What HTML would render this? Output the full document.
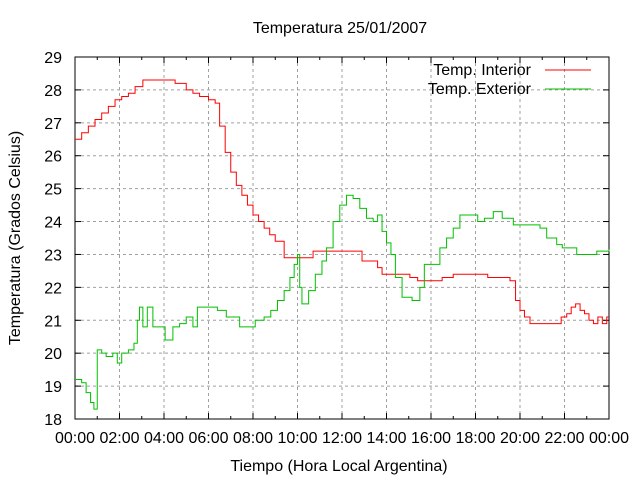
<!DOCTYPE html>
<html><head><meta charset="utf-8"><style>
body{margin:0;background:#fff}
svg{display:block;font-family:"Liberation Sans",sans-serif}
</style></head><body>
<svg id="chart" width="640" height="480">
<rect width="640" height="480" fill="#fff"/>
<text x="340" y="33" text-anchor="middle" font-size="16">Temperatura 25/01/2007</text>
<g id="grid"></g>
<g id="axes"></g>
<g id="series"></g>
<text x="339" y="471" text-anchor="middle" font-size="16">Tiempo (Hora Local Argentina)</text>
<text transform="translate(20,238) rotate(-90)" text-anchor="middle" font-size="16">Temperatura (Grados Celsius)</text>
<g>
<text x="531" y="75" text-anchor="end" font-size="16">Temp. Interior</text>
<line x1="545" y1="70" x2="591" y2="70" stroke="#ff0000"/>
<text x="531" y="94" text-anchor="end" font-size="16">Temp. Exterior</text>
<line x1="545" y1="89" x2="591" y2="89" stroke="#00c000"/>
</g>
</svg>
<script>
const yTicks=[18,19,20,21,22,23,24,25,26,27,28,29];
const xTickHours=[0,2,4,6,8,10,12,14,16,18,20,22,24];
const xTickLabels=["00:00","02:00","04:00","06:00","08:00","10:00","12:00","14:00","16:00","18:00","20:00","22:00","00:00"];
const interiorHours=[0,0.3,0.6,0.9,1.2,1.5,1.8,2.1,2.4,2.7,3.05,4.5,5.0,5.3,5.6,6.0,6.3,6.5,6.75,7,7.25,7.5,7.75,8,8.25,8.5,8.75,9,9.4,10.7,12.9,13.6,13.8,15.05,15.4,15.6,16.5,17.0,18.55,19.55,19.8,20.0,20.2,20.45,21.85,22.1,22.3,22.5,22.7,22.9,23.1,23.3,23.5,23.7,23.9];
const interiorTemps=[26.5,26.7,26.9,27.1,27.3,27.5,27.7,27.8,27.9,28.1,28.3,28.2,28.0,27.9,27.8,27.7,27.6,26.9,26.1,25.5,25.1,24.8,24.5,24.2,24.0,23.8,23.6,23.4,22.9,23.1,22.8,22.6,22.4,22.3,22.2,22.2,22.3,22.4,22.3,22.2,21.6,21.3,21.1,20.9,21.1,21.2,21.4,21.5,21.3,21.2,21.0,20.9,21.1,20.9,21.1];
const exteriorHours=[0,0.3,0.5,0.7,0.85,1.0,1.2,1.4,1.7,1.9,2.1,2.4,2.65,2.8,2.9,3.05,3.25,3.5,3.8,4.05,4.4,4.7,5.0,5.3,5.5,6.4,6.8,7.4,8.1,8.5,8.8,9.1,9.4,9.66,9.85,10.0,10.1,10.2,10.5,10.8,11.1,11.3,11.6,11.9,12.2,12.5,12.8,13.1,13.4,13.6,13.8,14.0,14.2,14.4,14.7,15.15,15.5,15.7,16.05,16.4,16.7,17.0,17.3,17.9,18.1,18.4,18.8,19.2,19.7,20.7,20.9,21.2,21.65,21.9,22.55,23.45,24];
const exteriorTemps=[19.2,19.1,18.8,18.5,18.3,20.1,20.0,19.9,20.0,19.7,20.0,20.1,20.3,21.0,21.4,20.8,21.4,20.8,20.8,20.4,20.8,20.9,21.1,20.8,21.4,21.3,21.1,20.8,21.0,21.1,21.3,21.6,21.9,22.3,22.7,23.0,22.0,21.5,21.9,22.4,22.8,23.2,24.0,24.5,24.8,24.7,24.4,24.1,24.0,24.2,23.7,23.35,23.0,22.3,21.7,21.6,22.0,22.7,22.7,23.2,23.5,23.8,24.2,24.2,24.0,24.1,24.3,24.1,23.9,23.9,23.8,23.5,23.3,23.2,23.0,23.1,23.15];

const L=75,R=609,T=57,B=419;
const xS=h=>L+(R-L)*h/24;
const yS=v=>B-(B-T)*(v-18)/11;
const NS="http://www.w3.org/2000/svg";
function mk(tag,attrs,parent){const e=document.createElementNS(NS,tag);for(const k in attrs)e.setAttribute(k,attrs[k]);parent.appendChild(e);return e;}
const grid=document.getElementById('grid'),axes=document.getElementById('axes'),series=document.getElementById('series');
yTicks.forEach((v,i)=>{
  const y=yS(v);
  if(i>0&&i<yTicks.length-1){const g=mk('line',{x1:L,x2:R,y1:y,y2:y,stroke:'#a0a0a0','stroke-dasharray':'3,3'},grid);
  
  }
  mk('line',{x1:L,x2:L+6,y1:y,y2:y,stroke:'#000'},axes);
  mk('line',{x1:R,x2:R-6,y1:y,y2:y,stroke:'#000'},axes);
  const t=mk('text',{x:L-13,y:y+6,'text-anchor':'end','font-size':16},axes);
  t.textContent=v;
  
  
});
xTickHours.forEach((h,i)=>{
  const x=xS(h);
  if(i>0&&i<xTickHours.length-1){const g=mk('line',{x1:x,x2:x,y1:T,y2:B,stroke:'#a0a0a0','stroke-dasharray':'3,3'},grid);
  
  }
  mk('line',{x1:x,x2:x,y1:B,y2:B-6,stroke:'#000'},axes);
  mk('line',{x1:x,x2:x,y1:T,y2:T+6,stroke:'#000'},axes);
  if(h<24){const xm=xS(h+1);mk('line',{x1:xm,x2:xm,y1:B,y2:B-3,stroke:'#000'},axes);mk('line',{x1:xm,x2:xm,y1:T,y2:T+3,stroke:'#000'},axes);}
  const t=mk('text',{x:x,y:B+24,'text-anchor':'middle','font-size':16},axes);
  t.textContent=xTickLabels[i];
  
  
});
mk('rect',{x:L,y:T,width:R-L,height:B-T,fill:'none',stroke:'#000'},axes);
function stepPath(hs,vs){let d='M'+xS(hs[0])+','+yS(vs[0]);for(let i=1;i<hs.length;i++){d+='H'+xS(hs[i])+'V'+yS(vs[i]);}d+='H'+xS(24);return d;}
const pi=mk('path',{d:stepPath(interiorHours,interiorTemps),fill:'none',stroke:'#ff0000','stroke-width':1},series);


const pe=mk('path',{d:stepPath(exteriorHours,exteriorTemps),fill:'none',stroke:'#00c000','stroke-width':1},series);


</script>
</body></html>
